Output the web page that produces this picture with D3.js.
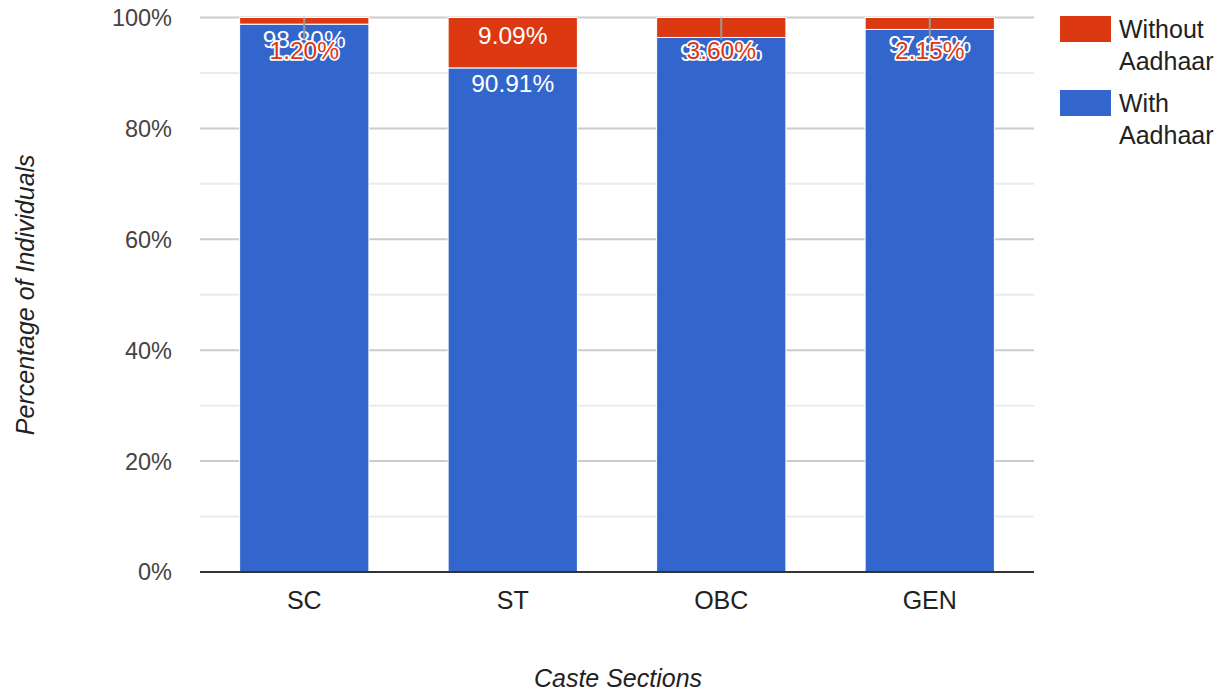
<!DOCTYPE html>
<html>
<head>
<meta charset="utf-8">
<script src="https://cdn.jsdelivr.net/npm/d3@7/dist/d3.min.js"></script>
<style>
  body { margin: 0; background: #fff; }
  svg { display: block; font-family: Arial, 'Liberation Sans', sans-serif; }
</style>
</head>
<body>
<svg id="chart" width="1221" height="696"></svg>
<script>
// Aadhaar coverage by caste section (percent)
const categories = ['SC', 'ST', 'OBC', 'GEN'];
const withAadhaar = [98.80, 90.91, 96.40, 97.85];
const withoutAadhaar = [1.20, 9.09, 3.60, 2.15];
const yTicks = [0, 20, 40, 60, 80, 100];
const yMinorTicks = [10, 30, 50, 70, 90];
const seriesNames = ['Without Aadhaar', 'With Aadhaar'];

const BLUE = '#3366cc', RED = '#dc3912';

const svg = d3.select('#chart');
const plotL = 200, plotR = 1034, plotT = 17.5, plotB = 572;

const x = d3.scaleBand().domain(categories).range([plotL, plotR])
  .paddingInner(0.38).paddingOuter(0.19);
const y = d3.scaleLinear().domain([0, 100]).range([plotB, plotT]);

// gridlines
svg.append('g').selectAll('line').data(yMinorTicks).join('line')
  .attr('x1', plotL).attr('x2', plotR)
  .attr('y1', d => y(d)).attr('y2', d => y(d))
  .attr('stroke', '#ebebeb').attr('stroke-width', 2);
svg.append('g').selectAll('line').data(yTicks.filter(d => d > 0)).join('line')
  .attr('x1', plotL).attr('x2', plotR)
  .attr('y1', d => y(d)).attr('y2', d => y(d))
  .attr('stroke', '#cccccc').attr('stroke-width', 2);

// y tick labels
svg.append('g').selectAll('text').data(yTicks).join('text')
  .attr('x', 172).attr('y', d => y(d)).attr('dy', '0.36em')
  .attr('text-anchor', 'end').attr('font-size', 23.5).attr('fill', '#444')
  .text(d => d + '%');

// stacked data
const rows = categories.map((c, i) => ({ cat: c, with: withAadhaar[i], without: withoutAadhaar[i] }));
const stack = d3.stack().keys(['with', 'without'])(rows);
const colors = { with: BLUE, without: RED };

const bars = svg.append('g');
stack.forEach(layer => {
  bars.append('g').selectAll('rect').data(layer).join('rect')
    .attr('x', d => x(d.data.cat))
    .attr('width', x.bandwidth())
    .attr('y', d => y(d[1]))
    .attr('height', d => y(d[0]) - y(d[1]))
    .attr('fill', colors[layer.key])
    .attr('stroke', '#fff').attr('stroke-width', 1);
});

// baseline
svg.append('line').attr('x1', plotL).attr('x2', plotR)
  .attr('y1', y(0)).attr('y2', y(0))
  .attr('stroke', '#333').attr('stroke-width', 2);

// value labels: blue inside at top, red inside if it fits, else stem + outlined text
const labels = svg.append('g').attr('font-size', 24.5);
const fmt = v => v.toFixed(2) + '%';
stack[0].forEach(d => {
  labels.append('text')
    .attr('x', x(d.data.cat) + x.bandwidth() / 2)
    .attr('y', y(d[1]) + 24)
    .attr('text-anchor', 'middle').attr('fill', '#fff')
    .text(fmt(d.data.with));
});
stack[1].forEach(d => {
  const cx = x(d.data.cat) + x.bandwidth() / 2;
  const h = y(d[0]) - y(d[1]);
  if (h > 30) {
    labels.append('text')
      .attr('x', cx).attr('y', y(d[1]) + 26)
      .attr('text-anchor', 'middle').attr('fill', '#fff')
      .text(fmt(d.data.without));
  } else {
    labels.append('line')
      .attr('x1', cx).attr('x2', cx)
      .attr('y1', y(d[1])).attr('y2', y(d[1]) + 22)
      .attr('stroke', '#999').attr('stroke-width', 2);
    labels.append('text')
      .attr('x', cx).attr('y', y(d[1]) + 41)
      .attr('text-anchor', 'middle').attr('fill', RED)
      .attr('stroke', '#fff').attr('stroke-width', 3.5).attr('paint-order', 'stroke')
      .attr('stroke-linejoin', 'round')
      .text(fmt(d.data.without));
  }
});

// x labels
svg.append('g').selectAll('text').data(categories).join('text')
  .attr('x', d => x(d) + x.bandwidth() / 2).attr('y', 609)
  .attr('text-anchor', 'middle').attr('font-size', 25).attr('fill', '#222')
  .text(d => d);

// axis titles
svg.append('text').attr('x', 618).attr('y', 687)
  .attr('text-anchor', 'middle').attr('font-size', 25).attr('font-style', 'italic').attr('fill', '#222')
  .text('Caste Sections');
svg.append('text').attr('transform', `translate(34,${(plotT + plotB) / 2}) rotate(-90)`)
  .attr('text-anchor', 'middle').attr('font-size', 25).attr('font-style', 'italic').attr('fill', '#222')
  .text('Percentage of Individuals');

// legend
const legend = svg.append('g');
const legendColors = [RED, BLUE];
seriesNames.forEach((name, i) => {
  const gy = 16 + i * 74;
  legend.append('rect').attr('x', 1060).attr('y', gy).attr('width', 51).attr('height', 26)
    .attr('fill', legendColors[i]);
  const words = name.split(' ');
  const t = legend.append('text').attr('font-size', 25).attr('fill', '#222');
  words.forEach((w, j) => {
    t.append('tspan').attr('x', 1119).attr('y', gy + 22 + j * 32).text(w);
  });
});
</script>
</body>
</html>
